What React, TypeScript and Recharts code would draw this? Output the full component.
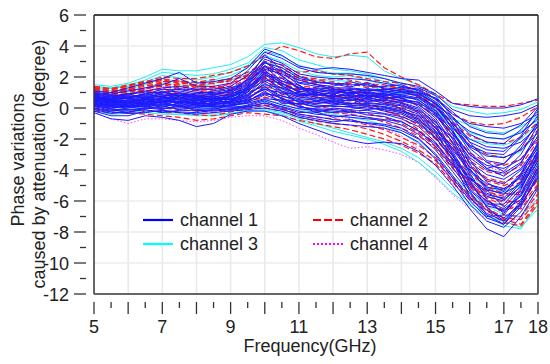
import { LineChart, Line, XAxis, YAxis, ReferenceLine, Legend } from 'recharts';

const frequency = [5, 5.5, 6, 6.5, 7, 7.5, 8, 8.5, 9, 9.5, 10, 10.5, 11, 11.5, 12, 12.5, 13, 13.5, 14, 14.5, 15, 15.5, 16, 16.5, 17, 17.5, 18];

const xLabels = [5, 7, 9, 11, 13, 15, 17, 18];
const yLabels = [6, 4, 2, 0, -2, -4, -6, -8, -10, -12];
const xTicks = [5, 5.5, 6, 6.5, 7, 7.5, 8, 8.5, 9, 9.5, 10, 10.5, 11, 11.5, 12, 12.5, 13, 13.5, 14, 14.5, 15, 15.5, 16, 16.5, 17, 17.5, 18];
const yTicks = [6, 5, 4, 3, 2, 1, 0, -1, -2, -3, -4, -5, -6, -7, -8, -9, -10, -11, -12];
const xGrid = [6, 7, 8, 9, 10, 11, 12, 13, 14, 15, 16, 17];
const yGrid = [4, 2, 0, -2, -4, -6, -8, -10];

const channel1 = [
  [1.1, 1.0, 1.3, 1.6, 1.9, 2.3, 1.6, 1.7, 1.9, 2.6, 3.8, 3.4, 2.7, 2.5, 2.6, 2.5, 2.3, 2.1, 1.9, 1.8, 1.1, 0.3, 0.1, 0.0, 0.0, 0.2, 0.6],
  [1.0, 0.9, 1.1, 1.3, 1.5, 1.9, 1.4, 1.4, 1.6, 2.4, 3.6, 3.2, 2.6, 2.3, 2.2, 2.2, 2.1, 1.9, 1.6, 1.4, 0.9, -0.1, -0.5, -0.6, -0.5, -0.3, 0.2],
  [0.9, 0.7, 0.9, 1.1, 1.3, 1.4, 1.2, 1.2, 1.4, 2.1, 3.3, 2.9, 2.2, 2.0, 1.9, 1.9, 1.8, 1.6, 1.4, 1.2, 0.6, -0.4, -1.0, -1.2, -1.3, -1.0, -0.4],
  [0.8, 0.6, 0.7, 0.9, 1.2, 1.2, 1.0, 1.0, 1.2, 1.8, 2.9, 2.6, 1.9, 1.7, 1.6, 1.5, 1.5, 1.3, 1.2, 1.0, 0.3, -0.7, -1.5, -1.9, -2.0, -1.6, -0.7],
  [0.7, 0.6, 0.7, 0.8, 1.0, 1.1, 0.9, 0.9, 1.0, 1.5, 2.5, 2.2, 1.6, 1.4, 1.3, 1.3, 1.2, 1.1, 1.0, 0.8, 0.1, -1.0, -2.0, -2.5, -2.6, -2.2, -1.2],
  [0.6, 0.5, 0.6, 0.7, 0.9, 0.9, 0.8, 0.7, 0.9, 1.3, 2.1, 1.9, 1.3, 1.1, 1.1, 1.0, 1.0, 0.9, 0.8, 0.5, -0.2, -1.3, -2.5, -3.1, -3.2, -2.7, -1.6],
  [0.5, 0.4, 0.5, 0.6, 0.8, 0.8, 0.7, 0.6, 0.7, 1.1, 1.8, 1.6, 1.1, 0.9, 0.8, 0.8, 0.8, 0.7, 0.5, 0.2, -0.5, -1.7, -3.0, -3.7, -3.9, -3.3, -2.0],
  [0.4, 0.3, 0.4, 0.5, 0.6, 0.7, 0.6, 0.5, 0.6, 0.9, 1.5, 1.3, 0.9, 0.7, 0.6, 0.6, 0.5, 0.5, 0.3, -0.1, -0.9, -2.2, -3.5, -4.3, -4.6, -3.9, -2.4],
  [0.3, 0.2, 0.3, 0.4, 0.5, 0.6, 0.5, 0.4, 0.4, 0.7, 1.2, 1.0, 0.6, 0.5, 0.4, 0.3, 0.3, 0.2, 0.0, -0.4, -1.3, -2.6, -4.0, -4.9, -5.2, -4.5, -2.9],
  [0.2, 0.1, 0.2, 0.3, 0.4, 0.4, 0.3, 0.3, 0.3, 0.5, 0.9, 0.8, 0.4, 0.2, 0.1, 0.1, 0.0, -0.1, -0.3, -0.8, -1.7, -3.1, -4.5, -5.5, -5.9, -5.1, -3.4],
  [0.1, 0.0, 0.1, 0.2, 0.2, 0.2, 0.2, 0.1, 0.2, 0.3, 0.6, 0.5, 0.1, -0.1, -0.2, -0.3, -0.3, -0.4, -0.7, -1.2, -2.2, -3.6, -5.0, -6.0, -6.5, -5.7, -3.9],
  [0.0, -0.2, -0.1, 0.0, 0.0, 0.0, 0.0, 0.0, 0.0, 0.1, 0.3, 0.1, -0.2, -0.4, -0.5, -0.6, -0.7, -0.8, -1.1, -1.7, -2.7, -4.1, -5.5, -6.6, -7.1, -6.2, -4.5],
  [-0.2, -0.5, -0.5, -0.2, -0.2, -0.3, -0.4, -0.3, -0.2, -0.1, 0.0, -0.2, -0.6, -0.8, -1.0, -1.1, -1.2, -1.3, -1.6, -2.2, -3.3, -4.7, -6.2, -7.3, -7.7, -6.7, -5.0],
  [-0.3, -0.7, -0.8, -0.5, -0.6, -0.8, -1.2, -1.0, -0.4, -0.2, -0.2, -0.5, -1.0, -1.4, -1.8, -2.1, -2.3, -2.2, -2.3, -2.8, -3.7, -5.0, -6.5, -7.8, -8.3, -7.0, -5.2],
  [0.9, 0.8, 0.6, 0.9, 0.7, 1.0, 0.8, 0.5, 0.9, 1.9, 3.0, 2.1, 1.2, 1.3, 1.2, 1.1, 0.9, 1.0, 1.2, 1.3, 0.8, -0.6, -2.2, -3.4, -3.6, -2.6, -0.9],
  [0.5, 0.6, 0.8, 0.7, 0.5, 0.4, 0.6, 0.8, 0.5, 1.0, 2.3, 1.4, 0.8, 0.9, 0.7, 0.9, 1.1, 0.8, 0.9, 0.9, 0.3, -1.4, -3.6, -5.2, -5.6, -4.3, -2.2],
  [0.2, 0.4, 0.3, 0.6, 0.3, 0.7, 0.4, 0.2, 0.6, 0.8, 1.6, 0.9, 1.0, 0.4, 0.9, 0.5, 0.6, 0.3, 0.5, 0.4, -0.4, -2.0, -4.2, -5.9, -6.8, -5.3, -3.0],
  [0.7, 0.3, 0.5, 0.3, 0.7, 0.5, 0.3, 0.6, 0.3, 1.4, 2.7, 1.7, 1.5, 0.7, 0.4, 0.7, 0.4, 0.6, 0.7, 0.1, -0.8, -2.8, -4.7, -6.4, -7.3, -6.0, -3.8],
  [0.4, 0.1, 0.0, 0.4, 0.1, 0.3, 0.1, 0.4, 0.1, 0.4, 1.1, 0.3, 0.3, 0.1, 0.2, 0.3, 0.2, 0.1, -0.1, -0.6, -1.5, -2.4, -3.8, -4.6, -4.9, -4.0, -2.6],
  [0.6, 0.2, 0.2, 0.1, 0.4, 0.1, 0.5, 0.2, 0.8, 1.2, 2.0, 1.1, 0.7, 0.6, 0.5, 0.2, 0.7, 0.4, 0.2, -0.2, -1.1, -1.9, -3.2, -4.0, -4.2, -3.5, -1.8],
  [0.3, -0.1, -0.3, 0.0, -0.1, 0.2, -0.2, -0.1, 0.2, 0.6, 1.4, 0.6, 0.2, -0.3, 0.0, -0.1, 0.1, -0.2, -0.4, -0.9, -1.9, -3.3, -5.2, -6.2, -6.2, -5.0, -3.2],
  [0.8, 0.5, 0.4, 0.5, 1.1, 0.8, 0.9, 1.1, 1.3, 1.7, 2.6, 2.4, 1.8, 1.5, 1.4, 1.7, 1.4, 1.4, 1.5, 1.1, 0.4, -1.1, -2.8, -3.9, -4.4, -3.6, -1.4],
  [0.65, 0.55, 0.45, 0.75, 0.85, 0.65, 0.45, 0.75, 0.85, 1.45, 2.95, 2.35, 1.45, 0.95, 1.25, 0.85, 1.25, 1.15, 1.35, 1.15, 0.55, -0.85, -2.6, -3.5, -4.1, -3.0, -1.1],
  [0.45, 0.25, 0.55, 0.35, 0.65, 0.25, 0.55, 0.35, 0.45, 0.85, 1.95, 1.25, 0.75, 1.05, 0.65, 1.05, 0.75, 0.95, 0.65, 0.65, -0.15, -1.55, -3.3, -4.8, -5.4, -4.2, -2.3],
  [0.75, 0.45, 0.35, 0.25, 0.55, 0.75, 0.35, 0.45, 0.65, 1.25, 2.45, 1.55, 1.05, 1.25, 1.05, 0.95, 0.55, 0.75, 0.45, 0.25, -0.65, -2.25, -4.4, -5.7, -6.0, -4.8, -2.7],
  [0.35, 0.15, 0.25, 0.55, 0.25, 0.45, 0.15, 0.25, 0.35, 0.55, 1.35, 0.75, 0.55, 0.25, 0.55, 0.45, 0.85, 0.55, 0.35, 0.0, -1.05, -2.95, -4.85, -6.1, -6.7, -5.5, -3.4],
  [0.55, 0.35, 0.15, 0.45, 0.35, 0.55, 0.25, 0.55, 0.55, 1.05, 2.15, 1.45, 0.85, 0.85, 0.75, 0.65, 0.95, 0.65, 0.75, 0.55, -0.35, -1.75, -3.9, -5.3, -6.4, -5.2, -3.1],
  [0.25, 0.45, 0.05, 0.15, 0.45, 0.05, 0.25, 0.05, 0.15, 0.35, 0.85, 0.45, 0.25, 0.45, 0.25, 0.55, 0.35, 0.25, 0.15, -0.3, -1.25, -3.0, -5.35, -6.9, -7.5, -6.4, -4.2],
  [0.85, 0.65, 0.85, 1.05, 0.95, 1.25, 1.15, 0.85, 1.15, 1.65, 3.15, 2.75, 2.05, 1.65, 1.55, 1.35, 1.65, 1.25, 1.05, 0.95, 0.25, -0.55, -1.7, -2.2, -2.3, -1.4, -0.2],
  [0.15, -0.05, -0.15, -0.05, 0.15, -0.1, 0.05, 0.2, 0.45, 0.75, 1.75, 1.05, 0.35, 0.05, 0.15, 0.05, -0.1, 0.0, -0.2, -0.5, -1.45, -3.4, -5.7, -7.0, -6.9, -5.6, -3.6],
  [0.6, 0.75, 0.95, 0.55, 0.6, 0.85, 0.55, 0.65, 0.75, 1.15, 2.35, 1.75, 1.35, 1.15, 0.95, 1.15, 0.65, 0.85, 1.05, 0.75, 0.05, -1.25, -2.4, -2.9, -3.0, -1.9, -0.5],
  [-0.1, -0.35, -0.25, -0.1, -0.3, -0.15, -0.15, -0.2, -0.1, 0.2, 0.55, 0.2, -0.05, -0.15, -0.3, -0.2, -0.45, -0.55, -0.9, -1.45, -2.45, -3.85, -5.3, -6.3, -6.6, -5.9, -4.1],
  [0.95, 0.85, 0.75, 0.65, 0.75, 0.95, 0.7, 0.95, 1.05, 1.85, 3.45, 2.45, 1.65, 1.55, 1.15, 1.25, 1.15, 1.05, 0.85, 0.65, 0.0, -1.0, -2.2, -2.7, -2.8, -1.8, 0.0],
  [0.1, -0.15, 0.0, 0.1, -0.05, 0.1, -0.1, -0.05, -0.15, 0.0, 0.15, -0.1, -0.4, -0.55, -0.75, -0.85, -0.95, -1.05, -1.3, -1.95, -2.95, -4.35, -5.8, -6.8, -7.3, -6.3, -4.4],
  [0.2, 0.05, 0.15, 0.05, 0.25, 0.15, 0.05, 0.15, 0.05, 0.15, 0.45, 0.05, -0.3, -0.25, -0.6, -0.45, -0.6, -0.75, -0.85, -1.5, -2.3, -3.7, -4.7, -5.6, -5.8, -4.7, -2.8],
  [-0.05, -0.25, -0.35, -0.3, -0.15, -0.25, -0.3, -0.15, -0.05, 0.05, 0.35, -0.05, -0.5, -0.7, -0.9, -0.75, -1.0, -1.15, -1.45, -2.0, -3.05, -4.5, -5.95, -7.1, -7.5, -6.1, -4.0],
  [0.3, 0.1, 0.1, 0.25, 0.05, 0.35, 0.25, 0.3, 0.25, 0.45, 1.0, 0.65, 0.05, -0.05, -0.1, -0.2, -0.15, -0.35, -0.55, -1.0, -1.95, -3.25, -4.6, -5.3, -5.5, -4.9, -3.0],
  [0.5, 0.2, 0.35, 0.2, 0.45, 0.35, 0.4, 0.15, 0.4, 0.65, 1.25, 0.55, 0.45, 0.3, 0.35, 0.15, 0.15, 0.05, -0.2, -0.7, -1.6, -2.7, -4.1, -5.1, -5.3, -4.4, -2.5],
  [0.7, 0.55, 0.65, 0.95, 1.05, 0.8, 0.75, 0.8, 1.1, 1.55, 2.75, 2.05, 1.25, 1.0, 0.9, 1.2, 1.1, 1.2, 1.1, 1.0, 0.65, -0.25, -1.2, -1.6, -1.7, -1.1, 0.1],
  [0.45, 0.5, 0.35, 0.65, 0.75, 0.55, 0.7, 0.5, 0.75, 1.35, 2.25, 1.6, 1.0, 0.8, 1.0, 0.75, 0.7, 0.9, 0.6, 0.35, -0.3, -1.5, -3.0, -3.9, -3.6, -2.4, -1.0],
];

const channel2 = [
  [1.4, 1.2, 1.4, 1.7, 2.0, 1.9, 1.9, 2.1, 2.3, 2.7, 3.4, 4.0, 3.7, 3.3, 3.2, 3.5, 3.6, 2.6, 2.0, 1.5, 0.9, 0.3, 0.2, 0.1, 0.1, 0.3, 0.5],
  [1.3, 1.1, 1.3, 1.5, 1.8, 1.6, 1.5, 1.7, 1.9, 2.3, 2.9, 2.6, 2.3, 2.4, 2.2, 2.1, 1.9, 1.7, 1.6, 1.3, 0.6, -0.4, -0.9, -1.1, -1.0, -0.6, 0.1],
  [1.2, 1.0, 1.2, 1.4, 1.6, 1.4, 1.2, 1.4, 1.4, 1.8, 2.5, 2.2, 1.8, 1.6, 1.7, 1.4, 1.6, 1.2, 1.1, 0.7, 0.1, -0.9, -1.8, -2.2, -2.3, -1.9, -0.9],
  [1.0, 0.9, 1.0, 1.3, 1.4, 1.2, 1.1, 1.1, 1.2, 1.6, 2.2, 1.7, 1.3, 1.2, 1.1, 1.2, 1.0, 0.8, 0.6, 0.3, -0.5, -1.6, -2.9, -3.5, -3.7, -3.3, -1.8],
  [0.9, 0.8, 1.1, 1.1, 1.2, 1.0, 0.8, 0.9, 0.8, 1.2, 1.7, 1.3, 0.9, 0.7, 0.9, 0.7, 0.6, 0.3, 0.1, -0.5, -1.3, -2.6, -3.8, -4.5, -4.8, -4.3, -2.8],
  [0.8, 0.7, 0.9, 1.0, 0.9, 0.8, 0.6, 0.7, 0.5, 0.8, 1.2, 0.9, 0.5, 0.4, 0.3, 0.2, 0.1, -0.2, -0.5, -1.1, -2.0, -3.3, -4.6, -5.4, -5.7, -5.4, -3.8],
  [0.5, 0.3, 0.5, 0.6, 0.5, 0.4, 0.2, 0.1, 0.2, 0.4, 0.7, 0.4, 0.1, -0.2, -0.3, -0.4, -0.6, -0.9, -1.3, -1.8, -2.6, -3.9, -5.1, -6.0, -6.6, -6.3, -4.9],
  [0.1, 0.0, 0.1, 0.1, 0.0, -0.1, -0.2, -0.3, -0.1, 0.1, 0.2, 0.0, -0.4, -0.6, -0.7, -0.8, -1.1, -1.4, -1.9, -2.4, -3.2, -4.5, -5.6, -6.4, -7.1, -7.2, -5.9],
  [-0.2, -0.3, -0.3, -0.4, -0.5, -0.6, -0.8, -0.7, -0.5, -0.3, -0.4, -0.5, -0.8, -1.0, -1.2, -1.4, -1.7, -2.0, -2.4, -2.9, -3.6, -4.8, -5.9, -6.6, -7.4, -7.6, -6.2],
  [1.1, 0.8, 0.9, 1.2, 1.7, 1.8, 1.3, 1.2, 1.6, 2.0, 3.0, 2.8, 2.0, 1.9, 1.5, 1.6, 1.3, 1.4, 1.3, 1.0, -0.1, -2.0, -3.4, -4.1, -4.3, -3.7, -2.1],
  [1.3, 0.9, 1.2, 1.0, 1.3, 0.9, 0.9, 0.5, 1.0, 1.0, 1.4, 1.1, 0.7, 0.9, 0.6, 0.8, 0.4, 0.5, -0.1, -0.8, -1.6, -3.0, -4.3, -5.0, -5.2, -4.8, -3.3],
  [1.35, 1.05, 1.25, 1.6, 1.9, 1.7, 1.45, 1.6, 1.75, 2.15, 2.7, 2.45, 2.1, 1.75, 1.9, 1.8, 1.55, 1.5, 1.25, 0.85, 0.2, -1.1, -2.4, -3.0, -3.2, -2.7, -1.4],
  [1.15, 1.0, 1.35, 1.45, 1.55, 1.5, 1.3, 1.3, 1.3, 1.45, 2.05, 1.5, 1.15, 1.05, 0.75, 1.0, 0.85, 0.6, 0.3, -0.2, -0.9, -2.3, -3.6, -4.7, -5.0, -4.6, -3.0],
  [0.95, 0.65, 0.75, 0.85, 1.05, 0.7, 0.95, 1.0, 0.95, 1.3, 1.85, 1.45, 1.05, 0.55, 0.45, 0.5, 0.25, 0.05, -0.3, -0.95, -1.85, -3.5, -4.9, -5.7, -6.1, -6.0, -4.4],
  [1.25, 1.15, 1.45, 1.75, 1.65, 1.75, 1.65, 1.85, 1.55, 1.95, 2.6, 2.3, 1.95, 1.5, 1.35, 1.1, 0.95, 0.7, 0.4, -0.3, -1.2, -2.5, -4.0, -5.1, -5.5, -5.6, -3.9],
  [1.05, 0.95, 1.15, 1.2, 1.5, 1.3, 1.45, 1.35, 1.1, 1.35, 1.95, 1.6, 1.2, 0.95, 0.65, 0.3, 0.25, -0.1, -0.6, -1.4, -2.3, -3.6, -4.8, -5.8, -6.3, -6.5, -5.1],
  [1.4, 1.25, 1.5, 1.65, 1.85, 1.55, 1.7, 1.55, 1.85, 2.05, 2.3, 1.95, 1.45, 1.3, 1.25, 0.95, 0.75, 0.4, -0.05, -0.7, -1.75, -3.1, -4.5, -5.3, -5.9, -6.2, -4.6],
  [0.6, 0.45, 0.65, 0.5, 0.7, 0.55, 0.35, 0.45, 0.35, 0.55, 0.95, 0.65, 0.25, 0.1, -0.05, -0.15, -0.35, -0.6, -1.0, -1.6, -2.5, -3.75, -5.0, -5.8, -6.9, -7.0, -5.5],
  [0.0, -0.15, -0.1, -0.15, -0.25, -0.3, -0.45, -0.5, -0.25, -0.05, 0.0, -0.2, -0.6, -0.85, -1.0, -1.1, -1.35, -1.7, -2.15, -2.7, -3.4, -4.65, -5.7, -6.5, -7.2, -7.5, -6.0],
];

const channel3 = [
  [1.5, 1.4, 1.6, 2.0, 2.5, 2.4, 2.4, 2.6, 2.8, 3.3, 4.1, 4.2, 3.9, 3.5, 3.3, 3.4, 3.3, 2.4, 1.9, 1.5, 0.8, 0.1, -0.2, -0.4, -0.3, -0.1, 0.4],
  [1.4, 1.3, 1.5, 1.8, 2.3, 2.2, 2.1, 2.2, 2.5, 2.9, 3.9, 3.7, 3.1, 2.8, 2.5, 2.4, 2.2, 1.9, 1.5, 1.0, 0.4, -0.7, -1.1, -1.5, -1.6, -1.2, -0.5],
  [1.0, 1.0, 1.1, 1.3, 1.6, 1.5, 1.4, 1.6, 1.8, 2.2, 3.0, 2.6, 2.0, 1.8, 1.8, 1.7, 1.5, 1.1, 0.9, 0.5, -0.3, -1.5, -2.5, -3.0, -3.2, -2.8, -1.6],
  [0.7, 0.5, 0.7, 0.8, 0.7, 0.6, 0.5, 0.6, 0.7, 1.0, 1.5, 1.2, 0.7, 0.5, 0.5, 0.3, 0.2, 0.0, -0.3, -0.9, -1.8, -3.1, -4.4, -5.1, -5.4, -5.0, -3.5],
  [0.3, 0.1, 0.2, 0.2, 0.2, 0.1, 0.0, 0.0, 0.1, 0.3, 0.5, 0.3, -0.1, -0.3, -0.4, -0.6, -0.8, -1.1, -1.6, -2.3, -3.2, -4.4, -5.5, -6.3, -6.9, -7.0, -5.8],
  [-0.1, -0.3, -0.2, -0.3, -0.4, -0.4, -0.5, -0.5, -0.4, -0.2, -0.1, -0.3, -0.7, -1.0, -1.3, -1.6, -1.9, -2.2, -2.6, -3.2, -4.1, -5.2, -6.1, -6.9, -7.6, -7.8, -6.2],
  [1.2, 1.1, 1.2, 1.5, 1.9, 1.7, 1.6, 1.8, 2.1, 2.6, 3.4, 3.0, 2.4, 2.1, 2.0, 2.1, 1.8, 1.5, 1.2, 0.8, -0.1, -1.2, -2.0, -2.3, -2.4, -2.0, -1.0],
  [-0.2, -0.4, -0.35, -0.15, -0.3, -0.45, -0.35, -0.4, -0.35, -0.15, -0.2, -0.4, -0.85, -1.15, -1.5, -1.75, -2.0, -2.35, -2.8, -3.5, -4.4, -5.5, -6.3, -7.0, -7.3, -7.7, -6.5],
  [1.3, 1.25, 1.4, 1.65, 2.1, 1.95, 1.8, 2.0, 2.3, 2.75, 3.65, 3.35, 2.75, 2.45, 2.25, 2.25, 2.05, 1.7, 1.35, 0.7, 0.1, -0.9, -1.6, -1.9, -2.0, -1.5, -0.8],
];

const channel4 = [
  [0.9, 0.8, 0.9, 1.2, 1.4, 1.3, 1.2, 1.3, 1.5, 1.8, 2.4, 2.1, 1.6, 1.4, 1.3, 1.2, 1.1, 0.8, 0.5, 0.0, -0.8, -2.0, -3.1, -3.8, -4.1, -3.8, -2.5],
  [0.2, 0.1, 0.1, 0.3, 0.3, 0.2, 0.1, 0.1, 0.2, 0.4, 0.7, 0.5, 0.0, -0.3, -0.5, -0.7, -1.0, -1.3, -1.8, -2.6, -3.7, -4.9, -5.9, -6.7, -7.2, -7.0, -5.6],
  [-0.3, -0.7, -1.0, -0.7, -0.7, -0.8, -0.9, -0.8, -0.6, -0.5, -0.5, -0.8, -1.3, -1.7, -2.2, -2.6, -2.5, -2.7, -3.0, -3.5, -4.5, -5.6, -6.5, -7.1, -7.4, -7.1, -5.9],
];

const tableRows = frequency.map((f, i) => {
  const row: Record<string, number> = { f };
  channel1.forEach((s, k) => (row[`c1_${k}`] = s[i]));
  channel2.forEach((s, k) => (row[`c2_${k}`] = s[i]));
  channel3.forEach((s, k) => (row[`c3_${k}`] = s[i]));
  channel4.forEach((s, k) => (row[`c4_${k}`] = s[i]));
  return row;
});

const font = '"Liberation Sans", Arial, sans-serif';
const ink = '#333';

const XTick = ({ x, y, payload }: any) => {
  const labelled = xLabels.includes(payload.value);
  const major = Number.isInteger(payload.value);
  return (
    <g>
      <line x1={x} x2={x} y1={y} y2={y + (major ? 12 : 6)} stroke={ink} strokeWidth={1.3} />
      {labelled && (
        <text x={x} y={y + 31} textAnchor="middle" fontSize={18} fontFamily={font} fill="#222">
          {payload.value}
        </text>
      )}
    </g>
  );
};

const YTick = ({ x, y, payload }: any) => {
  const labelled = yLabels.includes(payload.value);
  return (
    <g>
      <line x1={x} x2={x - (labelled ? 12 : 6)} y1={y} y2={y} stroke={ink} strokeWidth={1.3} />
      {labelled && (
        <text x={x - 17} y={y + 7} textAnchor="end" fontSize={18} fontFamily={font} fill="#222">
          {payload.value}
        </text>
      )}
    </g>
  );
};

const legendItems = [
  { name: 'channel 1', color: '#0000ff', dash: undefined, left: 143, top: 206 },
  { name: 'channel 2', color: '#ff0000', dash: '8 3', left: 313, top: 206 },
  { name: 'channel 3', color: '#00ffff', dash: undefined, left: 143, top: 230 },
  { name: 'channel 4', color: '#ff00ff', dash: '2 2', left: 313, top: 230 },
];

const ChartLegend = () => (
  <div style={{ position: 'relative', width: 550, height: 0 }}>
    {legendItems.map((item) => (
      <div key={item.name} style={{ position: 'absolute', left: item.left, top: item.top, display: 'flex', alignItems: 'center', height: 28, fontFamily: font, fontSize: 18, color: '#222', whiteSpace: 'nowrap' }}>
        <svg width={37} height={6}>
          <line x1={0} x2={30} y1={3} y2={3} stroke={item.color} strokeWidth={2.2} strokeDasharray={item.dash} />
        </svg>
        {item.name}
      </div>
    ))}
  </div>
);

const seriesLines = (group: number[][], prefix: string, color: string, dash?: string, width = 0.8) =>
  group.map((_, k) => (
    <Line
      key={`${prefix}_${k}`}
      dataKey={`${prefix}_${k}`}
      stroke={color}
      strokeWidth={width}
      strokeDasharray={dash}
      dot={false}
      activeDot={false}
      legendType="none"
      isAnimationActive={false}
    />
  ));

export default function App() {
  return (
    <div style={{ position: 'absolute', left: 0, top: 0 }}>
      <LineChart width={550} height={364} data={tableRows} margin={{ top: 15, right: 12, bottom: 0, left: 0 }}>
        {xGrid.map((v) => (
          <ReferenceLine key={`gx${v}`} x={v} stroke="#e8e8e8" strokeWidth={1.5} />
        ))}
        {yGrid.map((v) => (
          <ReferenceLine key={`gy${v}`} y={v} stroke="#ececec" strokeWidth={1.5} />
        ))}
        <XAxis
          dataKey="f"
          type="number"
          domain={[5, 18]}
          ticks={xTicks}
          interval={0}
          tick={<XTick />}
          tickLine={false}
          axisLine={{ stroke: ink, strokeWidth: 1.5 }}
          height={70}
        />
        <YAxis
          type="number"
          domain={[-12, 6]}
          ticks={yTicks}
          interval={0}
          tick={<YTick />}
          tickLine={false}
          axisLine={{ stroke: ink, strokeWidth: 1.5 }}
          width={94}
        />
        <ReferenceLine y={6} stroke="#444" strokeWidth={2} />
        <ReferenceLine x={18} stroke="#333" strokeWidth={1.5} />
        {seriesLines(channel4, 'c4', '#ff44ff', '1.5 2', 1)}
        {seriesLines(channel3, 'c3', '#22eeee', undefined, 1)}
        {seriesLines(channel2, 'c2', '#ff1a1a', '6 3', 1.2)}
        {seriesLines(channel1, 'c1', '#1a1aff', undefined, 1)}
        <Legend content={<ChartLegend />} wrapperStyle={{ left: 0, top: 0, width: 550, height: 0 }} />
        <text transform="translate(24 160) rotate(-90)" textAnchor="middle" fontSize={18} fontFamily={font} fill="#222">
          Phase variations
        </text>
        <text transform="translate(45 164) rotate(-90)" textAnchor="middle" fontSize={18} fontFamily={font} fill="#222">
          caused by attenuation (degree)
        </text>
        <text x={310} y={352} textAnchor="middle" fontSize={18} fontFamily={font} fill="#222">
          Frequency(GHz)
        </text>
      </LineChart>
    </div>
  );
}
